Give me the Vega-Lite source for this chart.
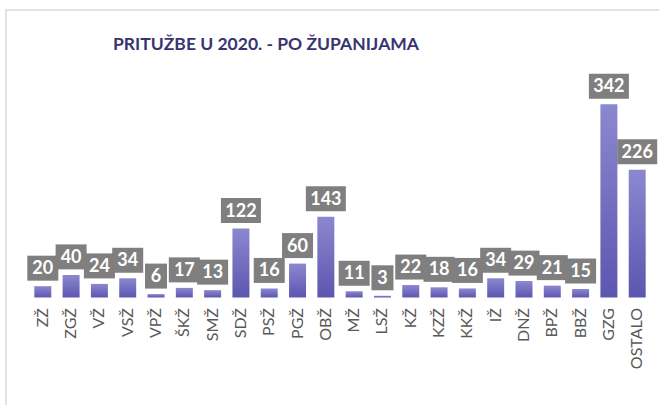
{
  "$schema": "https://vega.github.io/schema/vega-lite/v6.json",
  "autosize": {"type": "none"},
  "padding": {"left": 6, "top": 10, "right": -15, "bottom": -6},
  "width": 668,
  "height": 401,
  "background": "#ffffff",
  "title": {
    "text": "PRITUŽBE U 2020. - PO ŽUPANIJAMA",
    "font": "Lato",
    "fontSize": 17.5,
    "fontWeight": "bold",
    "color": "#38346f",
    "anchor": "middle",
    "dx": -74,
    "baseline": "alphabetic",
    "offset": -57
  },
  "data": {
    "values": [
      {"zupanija": "ZŽ", "value": 20},
      {"zupanija": "ZGŽ", "value": 40},
      {"zupanija": "VŽ", "value": 24},
      {"zupanija": "VSŽ", "value": 34},
      {"zupanija": "VPŽ", "value": 6},
      {"zupanija": "ŠKŽ", "value": 17},
      {"zupanija": "SMŽ", "value": 13},
      {"zupanija": "SDŽ", "value": 122},
      {"zupanija": "PSŽ", "value": 16},
      {"zupanija": "PGŽ", "value": 60},
      {"zupanija": "OBŽ", "value": 143},
      {"zupanija": "MŽ", "value": 11},
      {"zupanija": "LSŽ", "value": 3},
      {"zupanija": "KŽ", "value": 22},
      {"zupanija": "KZŽ", "value": 18},
      {"zupanija": "KKŽ", "value": 16},
      {"zupanija": "IŽ", "value": 34},
      {"zupanija": "DNŽ", "value": 29},
      {"zupanija": "BPŽ", "value": 21},
      {"zupanija": "BBŽ", "value": 15},
      {"zupanija": "GZG", "value": 342},
      {"zupanija": "OSTALO", "value": 226}
    ]
  },
  "encoding": {
    "x": {
      "field": "zupanija",
      "type": "nominal",
      "sort": null,
      "scale": {"paddingInner": 0.4, "paddingOuter": 1.068},
      "axis": {
        "title": null,
        "domain": false,
        "ticks": false,
        "offset": -113.5,
        "labelAngle": -90,
        "labelPadding": 10,
        "labelFont": "Lato",
        "labelFontSize": 16,
        "labelColor": "#595959"
      }
    },
    "y": {
      "field": "value",
      "type": "quantitative",
      "scale": {"domain": [-200.9, 508.8], "nice": false, "zero": false},
      "axis": null
    }
  },
  "layer": [
    {
      "mark": {
        "type": "bar",
        "color": {
          "gradient": "linear",
          "x1": 0, "y1": 0, "x2": 0, "y2": 1,
          "stops": [
            {"offset": 0, "color": "#8c88cf"},
            {"offset": 1, "color": "#5c56b0"}
          ]
        }
      }
    },
    {
      "mark": {"type": "point", "filled": true, "opacity": 1, "color": "#7f7f7f", "strokeWidth": 0, "yOffset": -18},
      "encoding": {
        "shape": {
          "condition": [
            {"test": "datum.value >= 100", "value": "M-1,-0.625H1V0.625H-1Z"},
            {"test": "datum.value < 10", "value": "M-1,-1.136H1V1.136H-1Z"}
          ],
          "value": "M-1,-0.806H1V0.806H-1Z"
        },
        "size": {
          "condition": [
            {"test": "datum.value >= 100", "value": 1600},
            {"test": "datum.value < 10", "value": 484}
          ],
          "value": 961
        }
      }
    },
    {
      "mark": {"type": "text", "color": "#ffffff", "font": "Lato", "fontSize": 18, "fontWeight": "bold", "baseline": "middle", "align": "center", "yOffset": -17},
      "encoding": {"text": {"field": "value", "type": "quantitative"}}
    }
  ],
  "config": {
    "view": {"stroke": "#d9d9d9", "strokeWidth": 1.5}
  }
}
